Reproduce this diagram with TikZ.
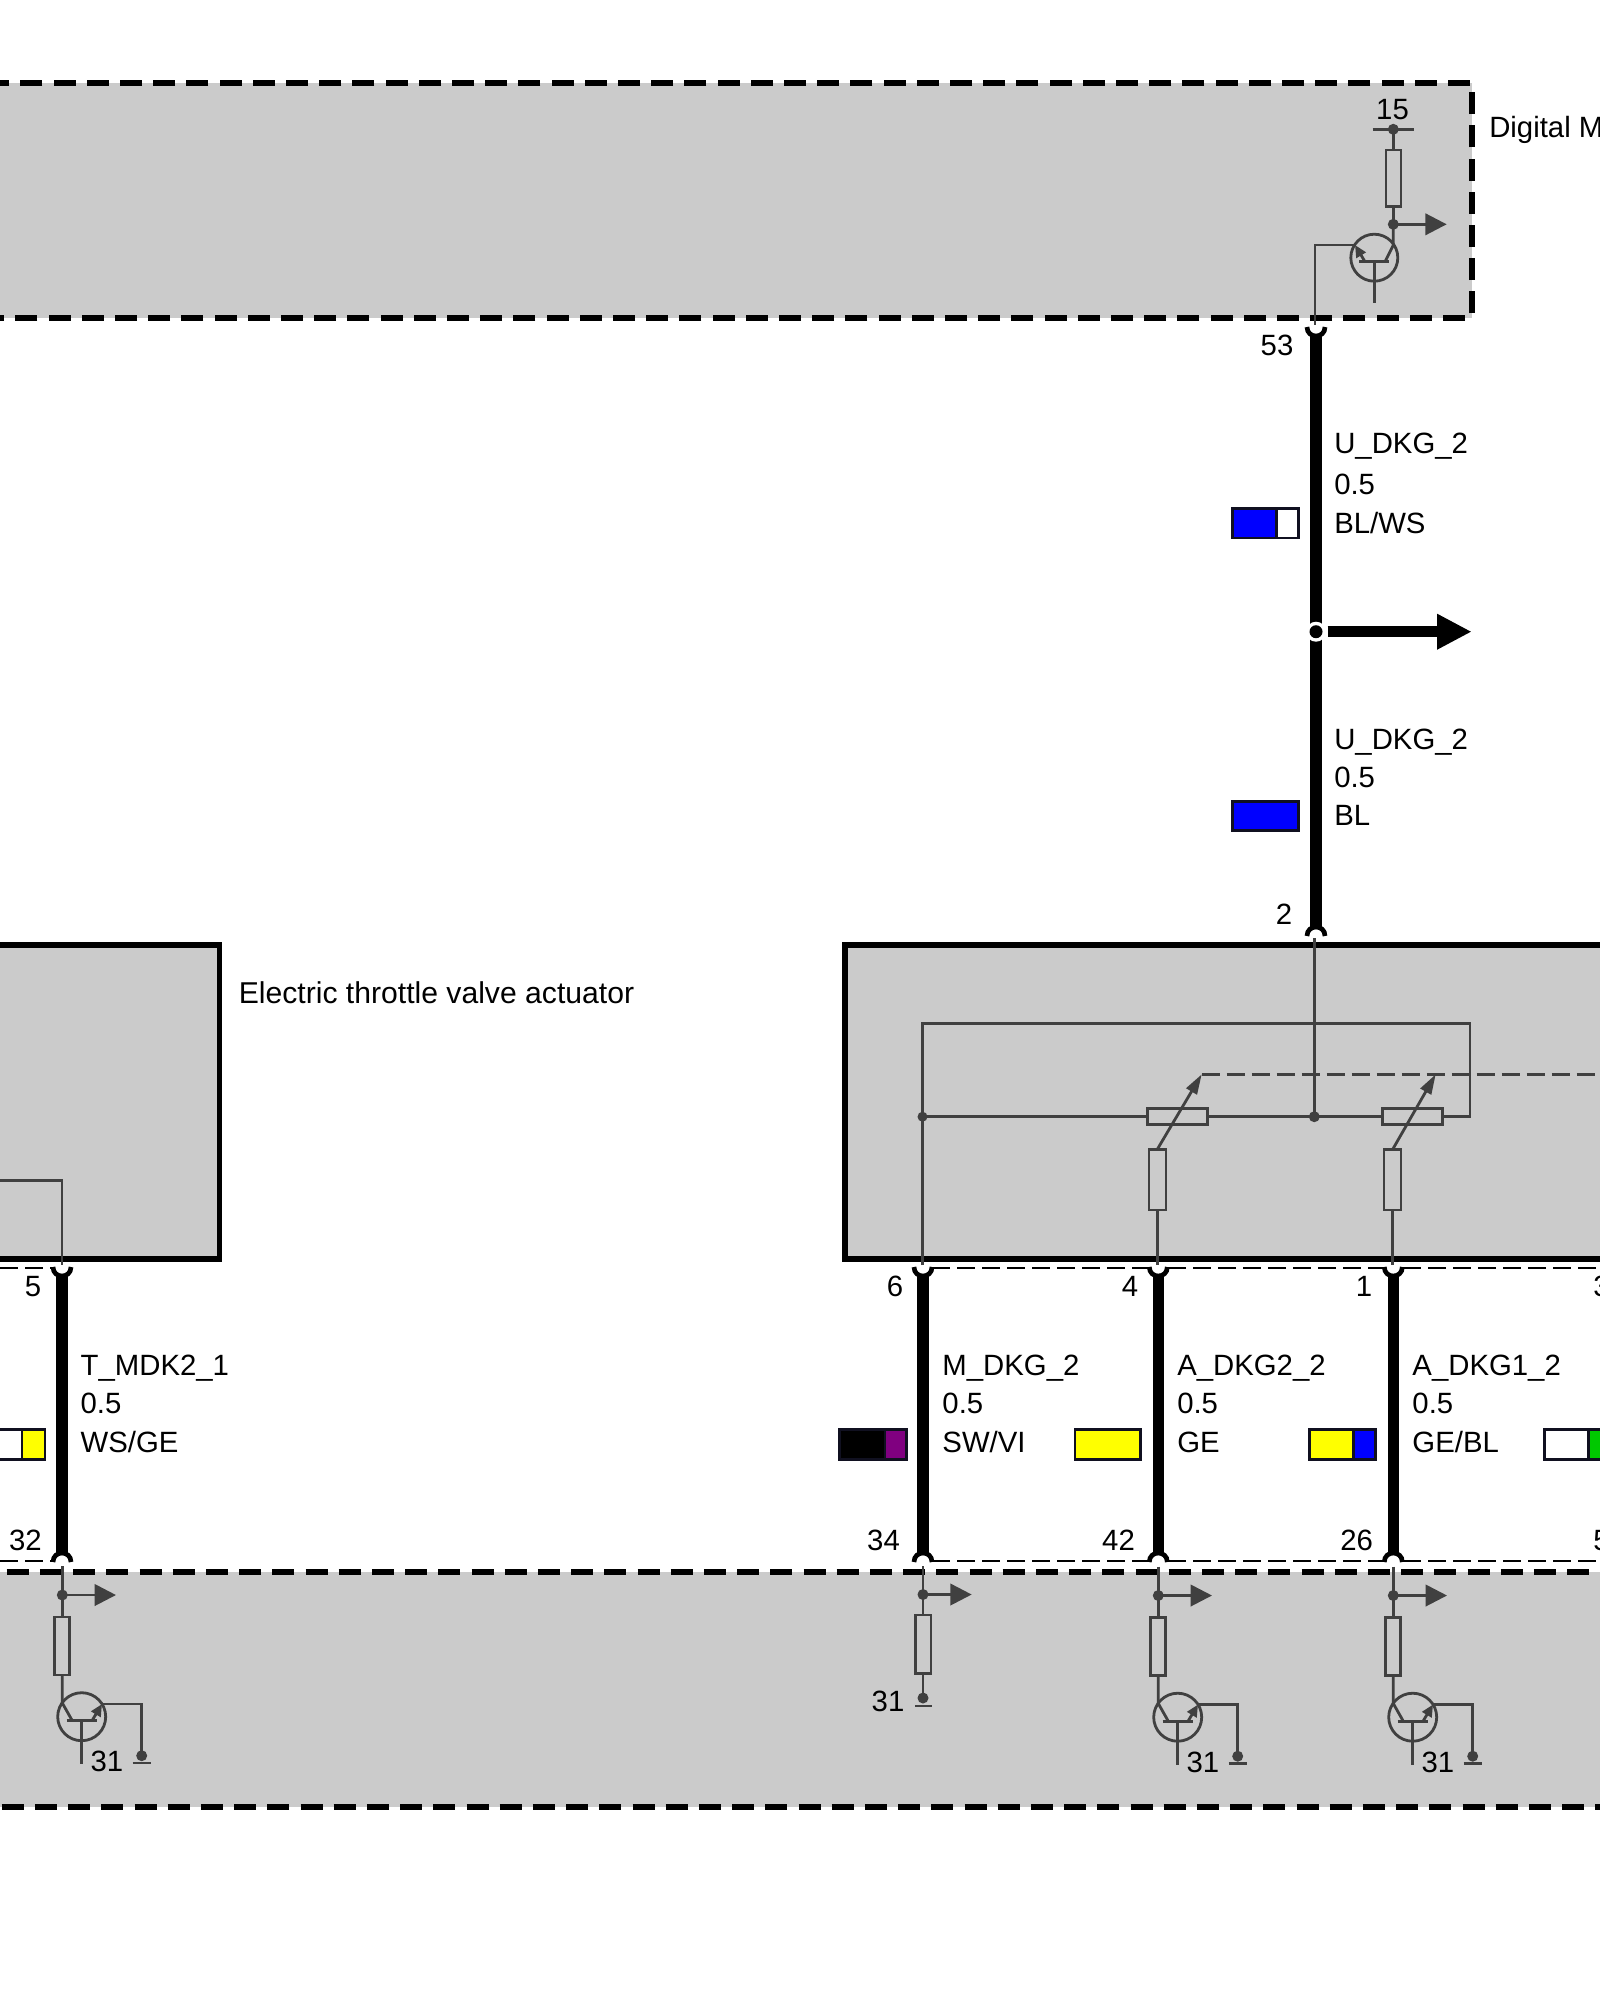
\documentclass[tikz,border=0pt]{standalone}
\usepackage{fontspec}
\setmainfont[Kerning=Off]{Liberation Sans}
\usetikzlibrary{arrows.meta}
\definecolor{boxgray}{HTML}{CBCBCB}
\definecolor{ink}{HTML}{404040}
\definecolor{swline}{HTML}{101020}
\definecolor{swblue}{HTML}{0000FF}
\definecolor{swyellow}{HTML}{FFFF00}
\definecolor{swpurple}{HTML}{800080}
\definecolor{swgreen}{HTML}{00C800}
\tikzset{
  thinline/.style={draw=ink,line width=2.1pt},
  dashbox/.style={draw=black,line width=4.1pt,dash pattern=on 16.5pt off 8.4pt},
  solidbox/.style={draw=black,line width=3.9pt},
  pindash/.style={draw=black,line width=1.9pt,dash pattern=on 13.5pt off 5.25pt},
  innerdash/.style={draw=ink,line width=2.1pt,dash pattern=on 13.5pt off 5.25pt},
  wire/.style={draw=black,line width=8.6pt},
  cupline/.style={draw=black,line width=3.5pt},
  res/.style={draw=ink,line width=2.1pt,fill=boxgray},
  outarrow/.style={thinline,-{Triangle[length=16pt,width=16pt,fill=ink]}},
  emitarrow/.style={thinline,-{Triangle[length=9pt,width=8pt,fill=ink]}},
  wiper/.style={thinline,-{Triangle[length=15pt,width=9pt,fill=ink]}},
  lab/.style={font=\fontsize{22}{24}\selectfont,inner sep=0pt,anchor=base west,text=black},
  num/.style={font=\fontsize{22}{24}\selectfont,inner sep=0pt,anchor=base,text=black},
  swatch/.style={draw=swline,line width=2.1pt},
  pics/cupopen/.style={code={\draw[cupline] (-9,-9) .. controls (-9,3) and (9,3) .. (9,-9);}},
  pics/capopen/.style={code={\draw[cupline] (-9,9) .. controls (-9,-3) and (9,-3) .. (9,9);}},
  pics/ecu/.style={code={
    \coordinate (jn) at (0,0);
    \coordinate (tip) at (53.7,0);
    \coordinate (rt) at (0,22);
    \coordinate (rb) at (0,80);
    \draw[thinline] (0,-29) -- (jn);
    \draw[outarrow] (jn) -- (tip);
    \draw[thinline] (jn) -- (rt);
    \draw[res] (-7.5,22) rectangle (7.5,80);
    \draw[thinline] (rb) -- (0,108) -- (10,125.7);
    \draw[thinline] (19.4,121.7) circle [radius=24];
    \draw[thinline] (4.4,125.7) -- (35,125.7);
    \draw[thinline] (19.4,125.7) -- (19.4,169);
    \draw[emitarrow] (29.7,125.7) -- (39.7,109);
    \draw[thinline] (39.7,109) -- (79.4,109) -- (79.4,160.7);
    \fill[ink] (0,0) circle [radius=5.5];
    \fill[ink] (79.4,160.7) circle [radius=5.5];
    \draw[thinline] (70.4,168) -- (88.4,168);
    \node[num] (lbl) at (44.6,176.8) {31};
  }}
}
\begin{document}
\begin{tikzpicture}[x=0.75pt,y=-0.75pt]
\useasboundingbox (0,0) rectangle (1600,2000);
\clip (0,0) rectangle (1600,2000);
% coordinates
\coordinate (p53) at (1316,336);
\coordinate (j)   at (1316,631.7);
\coordinate (p2)  at (1316,927);
\coordinate (p5)  at (62,1276);
\coordinate (p32) at (62,1553);
\coordinate (p6)  at (923,1276);
\coordinate (p34) at (923,1553);
\coordinate (p4)  at (1158.3,1276);
\coordinate (p42) at (1158.3,1553);
\coordinate (p1)  at (1393.3,1276);
\coordinate (p26) at (1393.3,1553);
% gray boxes
\fill[boxgray] (0,83) rectangle (1472,318);
\fill[boxgray] (0,1572) rectangle (1600,1807);
\fill[boxgray] (0,945) rectangle (219.5,1259);
\fill[boxgray] (845,945) rectangle (1610,1259);
% borders
\draw[dashbox] (1470,83) -- (0,83);
\draw[dashbox] (1472,313.3) -- (1472,83);
\draw[dashbox] (1465,318) -- (0,318);
\draw[dashbox] (6.7,1572) -- (1610,1572);
\draw[dashbox] (1.7,1807) -- (1610,1807);
\draw[solidbox] (-10,945) -- (219.5,945) -- (219.5,1259) -- (-10,1259);
\draw[solidbox] (1610,945) -- (845,945) -- (845,1259) -- (1610,1259);
% pin dashed lines
\draw[pindash] (0,1268) -- (52,1268);
\draw[pindash] (932,1268) -- (1148,1268);
\draw[pindash] (1168,1268) -- (1383,1268);
\draw[pindash] (1403,1268) -- (1610,1268);
\draw[pindash] (0,1561) -- (52,1561);
\draw[pindash] (932,1561) -- (1148,1561);
\draw[pindash] (1168,1561) -- (1383,1561);
\draw[pindash] (1403,1561) -- (1610,1561);
% top circuit
\coordinate (t15) at (1393.3,129.3);
\coordinate (tj) at (1393.3,224.3);
\draw[thinline] (1372.7,129.3) -- (1414.3,129.3);
\fill[ink] (t15) circle [radius=5.5];
\draw[thinline] (t15) -- (tj);
\draw[res] (1386,150) rectangle (1401,206.7);
\fill[ink] (tj) circle [radius=5.5];
\coordinate (ttip) at (1446.7,224.3);
\draw[outarrow] (tj) -- (ttip);
\draw[thinline] (tj) -- (1393.3,245) -- (1385,261.7);
\draw[thinline] (1374.3,257.7) circle [radius=23.5];
\draw[thinline] (1359,261.7) -- (1389,261.7);
\draw[thinline] (1374.3,261.7) -- (1374.3,303);
\draw[emitarrow] (1365,261.7) -- (1355,245);
\draw[thinline] (1355,245) -- (1315,245) -- (1315,325);
\node[num] (n15) at (1392.5,119.5) {15};
\node[lab] (dme) at (1489,137.5) {Digital M};
\node[num] (n53) at (1277,355.5) {53};
% main wire
\pic at (p53) {cupopen};
\draw[wire] (p53) -- (j);
\draw[wire] (j) -- (p2);
\pic at (p2) {capopen};
\fill[white] (j) circle [radius=10];
\fill[black] (j) circle [radius=6.5];
\coordinate (jstart) at (1327.7,631.7);
\coordinate (jtip) at (1471.7,631.7);
\draw[draw=black,line width=8.6pt,-{Triangle[length=26pt,width=25pt,fill=black]}] (jstart) -- (jtip);
\node[lab] (a1) at (1334,453.3) {U\_DKG\_2};
\node[lab] (a2) at (1334,494.1) {0.5};
\node[lab] (a3) at (1334,533.2) {BL/WS};
\filldraw[swatch,fill=swblue] (1232.7,508.7) rectangle (1276.7,538);
\filldraw[swatch,fill=white] (1276.7,508.7) rectangle (1298.3,538);
\node[lab] (b1) at (1334,749.5) {U\_DKG\_2};
\node[lab] (b2) at (1334,787.2) {0.5};
\node[lab] (b3) at (1334,825.5) {BL};
\filldraw[swatch,fill=swblue] (1232.7,801.7) rectangle (1298.3,830.7);
\node[num] (n2) at (1284,924.5) {2};
\node[lab,font=\fontsize{22.6}{24}\selectfont] (ethrottle) at (238.6,1003.5) {Electric throttle valve actuator};
% left box line
\draw[thinline] (-5,1180.5) -- (62,1180.5) -- (62,1265);
% right box circuit
\coordinate (cj) at (1314.3,1116.7);
\coordinate (cl) at (922.5,1116.7);
\draw[thinline] (1314.3,938) -- (cj);
\draw[thinline] (922.5,1265) -- (922.5,1023.3) -- (1470,1023.3) -- (1470,1116.7) -- (cl);
\fill[ink] (cj) circle [radius=5.5];
\fill[ink] (cl) circle [radius=5];
\draw[innerdash] (1201.7,1074.3) -- (1610,1074.3);
\draw[res] (1147.7,1108.3) rectangle (1207.3,1124.3);
\draw[res] (1382.3,1108.3) rectangle (1442.3,1124.3);
\draw[res] (1149,1149.3) rectangle (1166,1210);
\draw[res] (1384,1149.3) rectangle (1401,1210);
\coordinate (w1s) at (1157.3,1149.3);
\coordinate (w1e) at (1201.7,1074.3);
\coordinate (w2s) at (1392.7,1149.3);
\coordinate (w2e) at (1435.7,1074.3);
\draw[wiper] (w1s) -- (w1e);
\draw[wiper] (w2s) -- (w2e);
\draw[thinline] (1157.7,1210) -- (1157.7,1265);
\draw[thinline] (1392.7,1210) -- (1392.7,1265);
% lower wires
\draw[wire] (p5) -- (p32);
\draw[wire] (p6) -- (p34);
\draw[wire] (p4) -- (p42);
\draw[wire] (p1) -- (p26);
\foreach \q in {p5,p6,p4,p1} {\pic at (\q) {cupopen};}
\foreach \q in {p32,p34,p42,p26} {\pic at (\q) {capopen};}
% pin numbers
\node[num] (n5) at (33,1296) {5};
\node[num] (n6) at (895,1296) {6};
\node[num] (n4) at (1130,1296) {4};
\node[num] (n1) at (1364,1296) {1};
\node[lab] (n3) at (1593,1296) {3};
\node[num] (n32) at (25.5,1550.3) {32};
\node[num] (n34) at (883.5,1550.3) {34};
\node[num] (n42) at (1118.5,1550.3) {42};
\node[num] (n26) at (1356.7,1550.3) {26};
\node[lab] (n50) at (1593,1550.3) {5};
% wire labels
\node[lab] (c1) at (80.4,1375.8) {T\_MDK2\_1};
\node[lab] (c2) at (80.4,1413.8) {0.5};
\node[lab] (c3) at (80.4,1452.8) {WS/GE};
\node[lab] (d1) at (942.2,1375.8) {M\_DKG\_2};
\node[lab] (d2) at (942.2,1413.8) {0.5};
\node[lab] (d3) at (942.2,1452.8) {SW/VI};
\node[lab] (e1) at (1177,1375.8) {A\_DKG2\_2};
\node[lab] (e2) at (1177,1413.8) {0.5};
\node[lab] (e3) at (1177,1452.8) {GE};
\node[lab] (f1) at (1412.2,1375.8) {A\_DKG1\_2};
\node[lab] (f2) at (1412.2,1413.8) {0.5};
\node[lab] (f3) at (1412.2,1452.8) {GE/BL};
% swatches
\filldraw[swatch,fill=white] (-10,1429.5) rectangle (22,1459.4);
\filldraw[swatch,fill=swyellow] (22,1429.5) rectangle (45,1459.4);
\filldraw[swatch,fill=black] (839.3,1429.5) rectangle (885,1459.4);
\filldraw[swatch,fill=swpurple] (885,1429.5) rectangle (906.7,1459.4);
\filldraw[swatch,fill=swyellow] (1075,1429.5) rectangle (1140.7,1459.4);
\filldraw[swatch,fill=swyellow] (1309.7,1429.5) rectangle (1353.3,1459.4);
\filldraw[swatch,fill=swblue] (1353.3,1429.5) rectangle (1375.7,1459.4);
\filldraw[swatch,fill=white] (1544.3,1429.5) rectangle (1588.3,1459.4);
\filldraw[swatch,fill=swgreen] (1588.3,1429.5) rectangle (1620,1459.4);
% lower circuits
\pic (ta) at (62.3,1595) {ecu};
\pic (tb) at (1158.3,1595.5) {ecu};
\pic (tc) at (1393.3,1595.5) {ecu};
\coordinate (g) at (923,1594.5);
\coordinate (gt) at (971.7,1594.5);
\coordinate (gd) at (923,1698);
\draw[thinline] (923,1566) -- (gd);
\draw[outarrow] (g) -- (gt);
\draw[res] (915.7,1615) rectangle (931,1673.5);
\fill[ink] (g) circle [radius=5.5];
\fill[ink] (gd) circle [radius=5.5];
\draw[thinline] (915,1706) -- (932,1706);
\node[num] (n31) at (888,1711) {31};
\end{tikzpicture}
\end{document}
